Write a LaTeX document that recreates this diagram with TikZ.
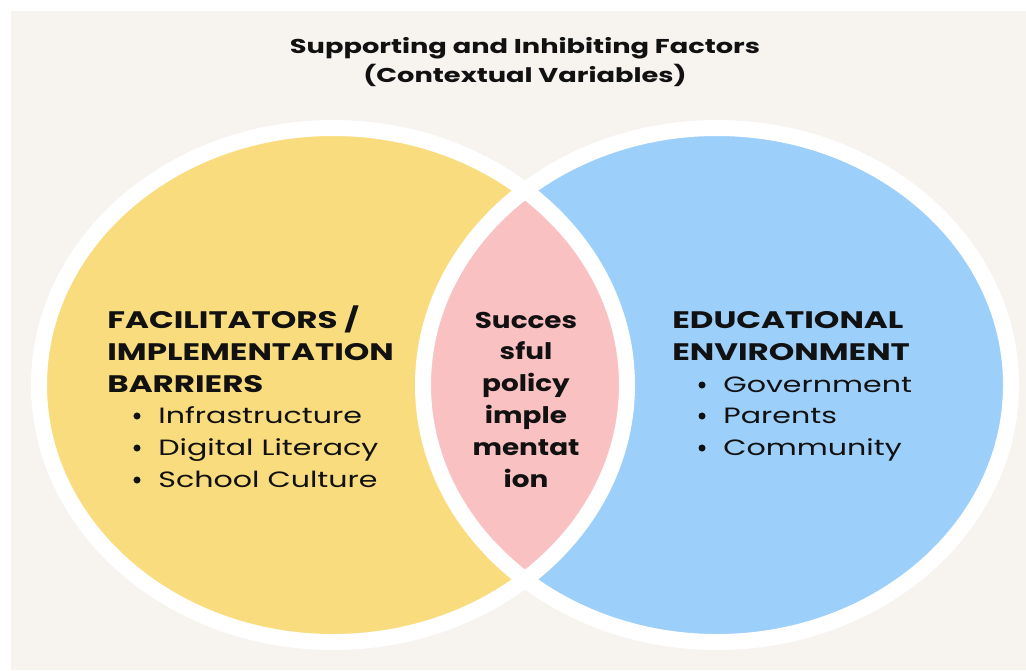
\documentclass[tikz,border=0pt]{standalone}
\usepackage{fontspec}
\setmainfont{Poppins}
\newfontfamily\widesans[FakeStretch=1.36]{Poppins}
\newfontfamily\coresans[FakeStretch=1.22]{Poppins}
\usepackage{tikz}
\usetikzlibrary{positioning}

\definecolor{paper}{HTML}{F7F4F0}
\definecolor{sunny}{HTML}{F9DC7D}
\definecolor{sky}{HTML}{9DCFFB}
\definecolor{blush}{HTML}{FAC1C2}
\definecolor{ink}{HTML}{111111}

\tikzset{
  ring/.style={draw=white, line width=9.1pt},
  title/.style={font=\widesans\bfseries\fontsize{11.4}{14}\selectfont, text=ink, anchor=base, inner sep=0pt},
  head/.style={font=\widesans\bfseries\fontsize{13.6}{16}\selectfont, text=ink, anchor=base west, inner sep=0pt},
  item/.style={font=\widesans\fontsize{12.6}{15}\selectfont, text=ink, anchor=base west, inner sep=0pt},
  core/.style={font=\coresans\bfseries\fontsize{13}{16}\selectfont, text=ink, anchor=base, inner sep=0pt},
  dot/.style={circle, fill=ink, inner sep=0pt, minimum size=4pt}
}

\begin{document}
\begin{tikzpicture}[x=0.02cm, y=-0.02cm]
  % Canvas
  \useasboundingbox (0,0) rectangle (1026,670);
  \fill[paper] (11,11) rectangle (1026,670);

  % Title
  \node[title] (title1) at (525,53) {Supporting and Inhibiting Factors};
  \node[title] (title2) at (525,82) {(Contextual Variables)};

  % Two circles and their overlap
  \fill[sunny] (333,385) ellipse (294 and 257);
  \fill[sky] (717,385) ellipse (294 and 257);
  \begin{scope}
    \clip (333,385) ellipse (294 and 257);
    \fill[blush] (717,385) ellipse (294 and 257);
  \end{scope}
  \draw[ring] (333,385) ellipse (294 and 257);
  \draw[ring] (717,385) ellipse (294 and 257);

  % Left circle
  \node[head] (facA) at (107,328) {FACILITATORS /};
  \node[head] (facB) at (107,360) {IMPLEMENTATION};
  \node[head] (facC) at (107,392) {BARRIERS};
  \foreach \n/\y/\t in {1/423/Infrastructure, 2/455/Digital Literacy, 3/487/School Culture} {
    \node[dot] (facdot\n) at (137,\y-7) {};
    \node[item] (fac\n) at (158,\y) {\t};
  }

  % Right circle
  \node[head] (envA) at (672,328) {EDUCATIONAL};
  \node[head] (envB) at (672,360) {ENVIRONMENT};
  \foreach \n/\y/\t in {1/392/Government, 2/423/Parents, 3/455/Community} {
    \node[dot] (envdot\n) at (702,\y-7) {};
    \node[item] (env\n) at (723,\y) {\t};
  }

  % Overlap
  \foreach \n/\y/\t in {1/328/Succes, 2/359/sful, 3/391/policy, 4/423/imple, 5/455/mentat, 6/487/ion} {
    \node[core] (mid\n) at (526,\y) {\t};
  }
\end{tikzpicture}
\end{document}
